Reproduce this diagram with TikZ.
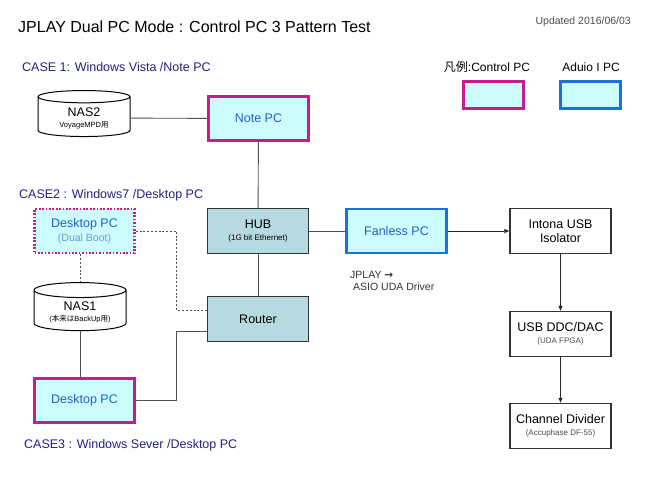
\documentclass[tikz,border=0pt]{standalone}
\usepackage{fontspec}
\setmainfont{Liberation Sans}
\newfontfamily\cjk{Noto Sans CJK JP}
\newfontfamily\symfont{DejaVu Sans}
\usetikzlibrary{shapes.geometric,arrows.meta}
\definecolor{ctrlpink}{HTML}{C41E8E}
\definecolor{audioblue}{HTML}{1E6EE0}
\definecolor{pcfill}{HTML}{CCFCFC}
\definecolor{netfill}{HTML}{B6DADF}
\definecolor{casenavy}{HTML}{22227E}
\definecolor{pctext}{HTML}{2262C6}
\definecolor{subblue}{HTML}{6C9AD2}
\definecolor{linegray}{HTML}{505050}
\begin{document}
\begin{tikzpicture}
[x=1pt,y=-1pt,
  ctrlbox/.style={shape=rectangle,draw=ctrlpink,line width=2.7pt,fill=pcfill,text=pctext,
    minimum width=100pt,minimum height=44pt,align=center,font=\fontsize{12.5}{14}\selectfont},
  audiobox/.style={ctrlbox,draw=audioblue},
  dualbox/.style={ctrlbox,line width=2.6pt,dash pattern=on 1.7pt off 1.7pt},
  netbox/.style={shape=rectangle,draw=black!80,line width=1.5pt,fill=netfill,
    minimum width=101pt,minimum height=45pt,align=center,font=\fontsize{12.5}{14}\selectfont},
  devbox/.style={netbox,fill=white},
  nasdecorate/.style={shape=cylinder,shape border rotate=90,aspect=0.22,draw,line width=1pt,
    minimum width=92pt,minimum height=46pt,align=center,font=\fontsize{12.5}{14}\selectfont},
  caselabel/.style={anchor=west,inner sep=0pt,text=casenavy,font=\fontsize{12.5}{14}\selectfont},
  legendlabel/.style={inner sep=0pt,font=\fontsize{12}{14}\selectfont},
  netline/.style={-,draw=linegray,line width=0.9pt},
  dotline/.style={-,draw=linegray,line width=0.8pt,dash pattern=on 2pt off 1.8pt},
  sigarrow/.style={-{Triangle[length=5pt,width=4pt]},draw=black!85,line width=0.9pt}]
\useasboundingbox (0,0) rectangle (650,488);
% titles and labels
\node (title) at (18,27) [anchor=west,inner sep=0pt,font=\fontsize{16}{18}\selectfont]
  {JPLAY Dual PC Mode : Control PC 3 Pattern Test};
\node (updated) at (631,22) [anchor=east,inner sep=0pt,text=black!70,font=\fontsize{10.5}{12}\selectfont]
  {Updated 2016/06/03};
\node (case1) at (22,67) [caselabel] {CASE 1: Windows Vista /Note PC};
\node (case2) at (19,195) [caselabel] {CASE2 : Windows7 /Desktop PC};
\node (case3) at (24,445) [caselabel] {CASE3 : Windows Sever /Desktop PC};
% legend
\node (legctrltxt) at (487,67) [legendlabel] {{\cjk 凡例}:Control PC};
\node (legaudiotxt) at (591,67) [legendlabel] {Aduio I PC};
\node (legctrl) at (493.5,95) [ctrlbox,minimum width=60pt,minimum height=27pt] {};
\node (legaudio) at (590.5,95) [audiobox,minimum width=60pt,minimum height=27pt] {};
% nodes or devices
\node (nas2) at (84,118) [nasdecorate] {NAS2\\[-3pt]{\fontsize{7.5}{9}\selectfont VoyageMPD{\cjk 用}}};
\node (notepc) at (258.5,118.5) [ctrlbox] {Note PC};
\node (dualpc) at (84.5,231) [dualbox] {Desktop PC\\{\fontsize{10.5}{12}\selectfont\color{subblue}(Dual Boot)}};
\node (hub) at (258,231) [netbox] {HUB\\[-2pt]{\fontsize{8}{9}\selectfont (1G bit Ethernet)}};
\node (router) at (258,319) [netbox] {Router};
\node (nas1) at (80,312) [nasdecorate] {NAS1\\[-3pt]{\fontsize{7.5}{9}\selectfont ({\cjk 本来は}BackUp{\cjk 用})}};
\node (deskpc) at (84.5,400.5) [ctrlbox] {Desktop PC};
\node (fanless) at (396.5,231) [audiobox] {Fanless PC};
\node (intona) at (560.5,231) [devbox] {Intona USB\\Isolator};
\node (ddc) at (560.5,334) [devbox] {USB DDC/DAC\\[-2pt]{\fontsize{8}{9}\selectfont\color{black!70}(UDA FPGA)}};
\node (divider) at (560.5,426) [devbox] {Channel Divider\\[-2pt]{\fontsize{8}{9}\selectfont\color{black!70}(Accuphase DF-55)}};
\node (jplaynote) at (350,281) [anchor=west,align=left,inner sep=0pt,text=black!80,
  font=\fontsize{10.5}{12.5}\selectfont] {JPLAY {\symfont\bfseries →}\\\hspace{3pt}ASIO UDA Driver};
% edges or lines
\path
(nas2) edge[netline] (notepc)
(notepc) edge[netline] (hub)
(hub) edge[netline] (router)
(hub) edge[netline] (fanless)
(fanless) edge[sigarrow] (intona)
(intona) edge[sigarrow] (ddc)
(ddc) edge[sigarrow] (divider);
\draw[netline] (nas1.south) -- (nas1.south |- deskpc.north);
\draw[netline] (deskpc.east) -| ([xshift=-30pt,yshift=-12pt]router.west) -- ([yshift=-12pt]router.west);
\draw[dotline] (nas1.north |- dualpc.south) -- (nas1.north);
\draw[dotline] (dualpc.east) -| ([xshift=-30pt,yshift=9pt]router.west) -- ([yshift=9pt]router.west);
\end{tikzpicture}
\end{document}
